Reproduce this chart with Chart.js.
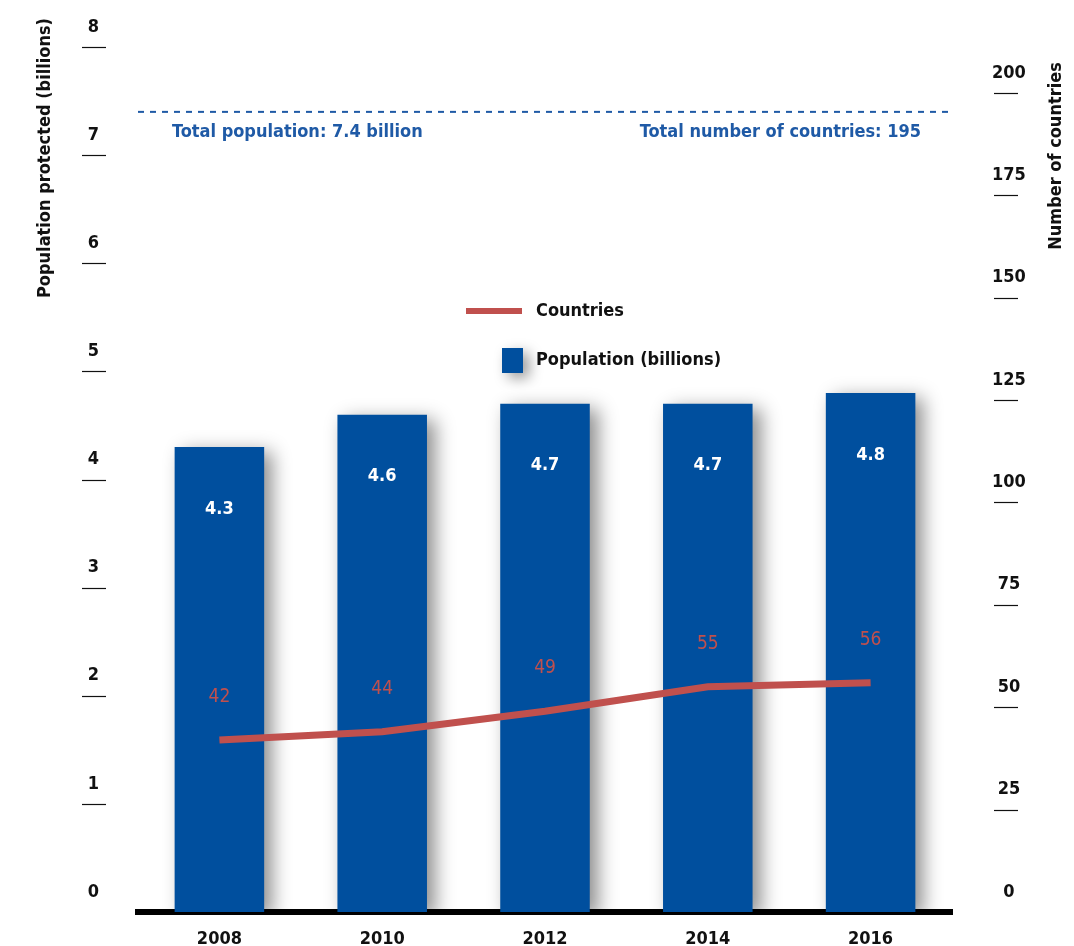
<!DOCTYPE html>
<html>
<head>
<meta charset="utf-8">
<script src="https://cdn.jsdelivr.net/npm/chart.js@4.4.1/dist/chart.umd.min.js"></script>
<style>
  html, body { margin: 0; padding: 0; background: #fff; }
  #wrap { width: 1074px; height: 946px; }
</style>
</head>
<body>
<div id="wrap"><canvas id="chart" width="1074" height="946"></canvas></div>
<script>
// data
const years = ['2008', '2010', '2012', '2014', '2016'];
const population = [4.3, 4.6, 4.7, 4.7, 4.8];
const countries = [42, 44, 49, 55, 56];
const popTicks = [0, 1, 2, 3, 4, 5, 6, 7, 8];
const countryTicks = [0, 25, 50, 75, 100, 125, 150, 175, 200];
const totalPopulation = 7.4;
const totalCountries = 195;

const FONT = "'Liberation Sans Narrow', 'DejaVu Sans Condensed', sans-serif";
const BLUE = '#004f9e';
const RED = '#c0504d';
const NOTE_BLUE = '#1f5aa6';

Chart.defaults.font.family = FONT;
Chart.defaults.color = '#111';

// soft shadow under the bars
const barShadow = {
    id: 'barShadow',
    beforeDatasetDraw(chart, args) {
        if (args.meta.type !== 'bar') return;
        const ctx = chart.ctx;
        ctx.save();
        ctx.shadowColor = 'rgba(0,0,0,0.45)';
        ctx.shadowBlur = 18;
        ctx.shadowOffsetX = 8;
        ctx.shadowOffsetY = 5;
    },
    afterDatasetDraw(chart, args) {
        if (args.meta.type !== 'bar') return;
        chart.ctx.restore();
    }
};

const extras = {
    id: 'extras',
    afterDraw(chart) {
        const ctx = chart.ctx;
        const area = chart.chartArea;
        const y = chart.scales.y;
        const y1 = chart.scales.y1;

        // short tick dashes under the axis labels
        ctx.save();
        ctx.strokeStyle = '#111';
        ctx.lineWidth = 1.2;
        y.ticks.forEach(t => {
            if (t.value === 0) return;
            const py = Math.round(y.getPixelForValue(t.value)) + 0.5;
            ctx.beginPath(); ctx.moveTo(82, py); ctx.lineTo(106, py); ctx.stroke();
        });
        y1.ticks.forEach(t => {
            if (t.value === 0) return;
            const py = Math.round(y1.getPixelForValue(t.value)) + 0.5;
            ctx.beginPath(); ctx.moveTo(994, py); ctx.lineTo(1018, py); ctx.stroke();
        });
        ctx.restore();

        // total line + notes
        const ty = y.getPixelForValue(totalPopulation);
        ctx.save();
        ctx.strokeStyle = NOTE_BLUE;
        ctx.lineWidth = 2;
        ctx.setLineDash([6, 6]);
        ctx.beginPath(); ctx.moveTo(area.left, ty); ctx.lineTo(area.right, ty); ctx.stroke();
        ctx.setLineDash([]);
        ctx.fillStyle = NOTE_BLUE;
        ctx.font = 'bold 18px ' + FONT;
        ctx.textBaseline = 'middle';
        ctx.textAlign = 'left';
        ctx.fillText('Total population: ' + totalPopulation + ' billion', 172, ty + 20);
        ctx.textAlign = 'right';
        ctx.fillText('Total number of countries: ' + totalCountries, 921, ty + 20);
        ctx.restore();

        // value labels
        const barMeta = chart.getDatasetMeta(1);
        const lineMeta = chart.getDatasetMeta(0);
        ctx.save();
        ctx.textAlign = 'center';
        ctx.textBaseline = 'middle';
        ctx.fillStyle = '#fff';
        ctx.font = 'bold 18px ' + FONT;
        barMeta.data.forEach((el, i) => {
            ctx.fillText(population[i].toFixed(1), el.x, el.y + 62);
        });
        ctx.fillStyle = RED;
        ctx.font = '19px ' + FONT;
        lineMeta.data.forEach((el, i) => {
            ctx.fillText(String(countries[i]), el.x, el.y - 43);
        });
        ctx.restore();

        // legend
        ctx.save();
        ctx.strokeStyle = RED;
        ctx.lineWidth = 6;
        ctx.beginPath(); ctx.moveTo(466, 311); ctx.lineTo(522, 311); ctx.stroke();
        ctx.shadowColor = 'rgba(0,0,0,0.4)';
        ctx.shadowBlur = 14;
        ctx.shadowOffsetX = 6;
        ctx.shadowOffsetY = 5;
        ctx.fillStyle = BLUE;
        ctx.fillRect(502, 348, 21, 25);
        ctx.restore();
        ctx.save();
        ctx.fillStyle = '#111';
        ctx.font = 'bold 18px ' + FONT;
        ctx.textAlign = 'left';
        ctx.textBaseline = 'middle';
        ctx.fillText(chart.data.datasets[0].label, 536, 311);
        ctx.fillText(chart.data.datasets[1].label, 536, 360);
        ctx.restore();

        // axis titles
        ctx.save();
        ctx.fillStyle = '#111';
        ctx.font = 'bold 18px ' + FONT;
        ctx.textAlign = 'center';
        ctx.textBaseline = 'middle';
        ctx.translate(45, 158);
        ctx.rotate(-Math.PI / 2);
        ctx.fillText('Population protected (billions)', 0, 0);
        ctx.restore();
        ctx.save();
        ctx.fillStyle = '#111';
        ctx.font = 'bold 18px ' + FONT;
        ctx.textAlign = 'center';
        ctx.textBaseline = 'middle';
        ctx.translate(1056, 156);
        ctx.rotate(-Math.PI / 2);
        ctx.fillText('Number of countries', 0, 0);
        ctx.restore();
    }
};

function fixVertical(width) {
    return function (scale) {
        scale.width = width;
        scale.paddingTop = 0;
        scale.paddingBottom = 0;
    };
}

new Chart(document.getElementById('chart'), {
    data: {
        labels: years,
        datasets: [
            {
                type: 'line',
                label: 'Countries',
                data: countries,
                yAxisID: 'y1',
                borderColor: RED,
                backgroundColor: RED,
                borderWidth: 7,
                borderCapStyle: 'butt',
                pointRadius: 0,
                tension: 0,
                order: 0
            },
            {
                type: 'bar',
                label: 'Population (billions)',
                data: population,
                yAxisID: 'y',
                backgroundColor: BLUE,
                categoryPercentage: 1,
                barPercentage: 0.55,
                order: 1
            }
        ]
    },
    options: {
        responsive: false,
        animation: false,
        layout: { padding: { top: 47, left: 0, right: 0, bottom: 0 } },
        plugins: {
            legend: { display: false },
            tooltip: { enabled: false }
        },
        scales: {
            x: {
                z: 1,
                grid: { display: false, drawTicks: false },
                border: { display: true, color: '#000', width: 6 },
                ticks: { padding: 17, color: '#111', font: { size: 18, weight: 'bold' } },
                afterFit(scale) {
                    scale.height = 34;
                    scale.paddingLeft = 0;
                    scale.paddingRight = 0;
                }
            },
            y: {
                position: 'left',
                min: popTicks[0],
                max: popTicks[popTicks.length - 1],
                grid: { display: false, drawTicks: false },
                border: { display: false },
                afterBuildTicks(scale) { scale.ticks = popTicks.map(v => ({ value: v })); },
                ticks: {
                    crossAlign: 'center',
                    padding: 39,
                    labelOffset: -20,
                    color: '#111',
                    font: { size: 18, weight: 'bold' }
                },
                afterFit: fixVertical(138)
            },
            y1: {
                position: 'right',
                min: 0,
                max: 211.2,
                grid: { display: false, drawTicks: false },
                border: { display: false },
                afterBuildTicks(scale) { scale.ticks = countryTicks.map(v => ({ value: v })); },
                ticks: {
                    crossAlign: 'center',
                    padding: 40,
                    labelOffset: -20,
                    color: '#111',
                    font: { size: 18, weight: 'bold' }
                },
                afterFit: fixVertical(122)
            }
        }
    },
    plugins: [barShadow, extras]
});
</script>
</body>
</html>
